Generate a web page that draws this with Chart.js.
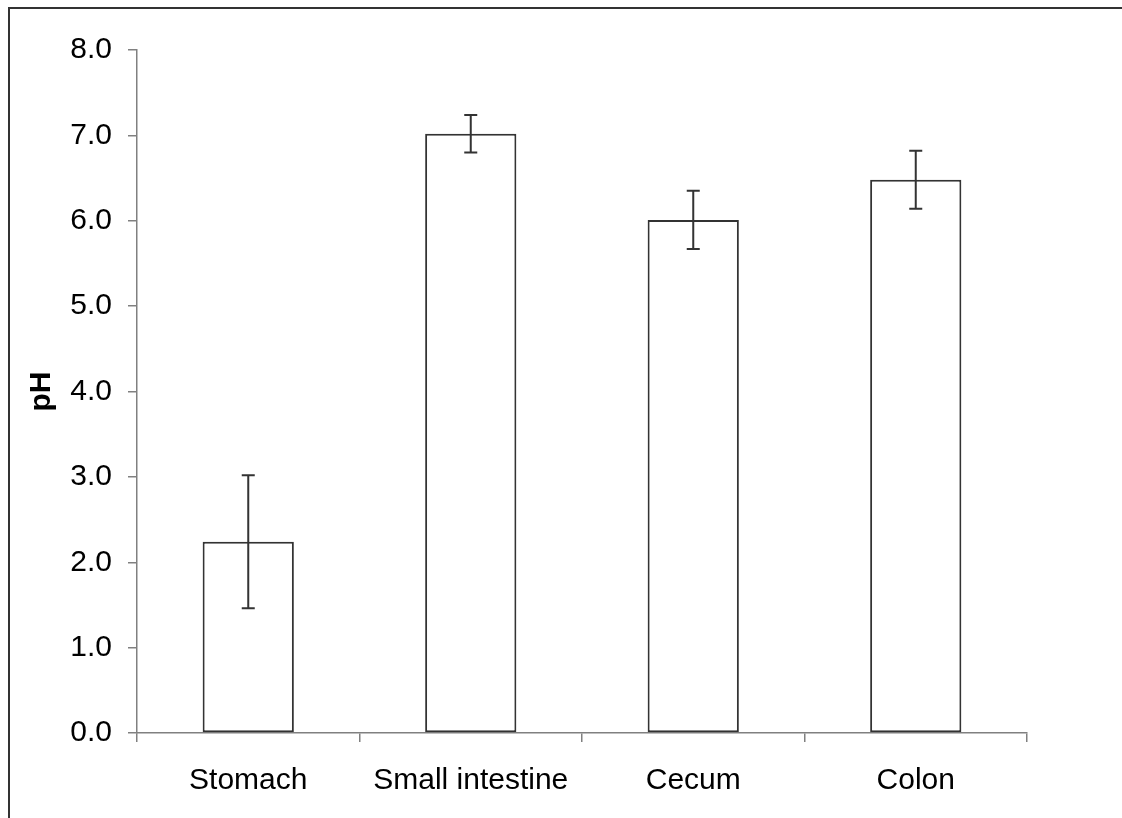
<!DOCTYPE html>
<html>
<head>
<meta charset="utf-8">
<script src="https://cdn.jsdelivr.net/npm/chart.js@4/dist/chart.umd.min.js"></script>
<style>
  body { margin: 0; background: #fff; }
  canvas { display: block; }
</style>
</head>
<body>
<canvas id="myChart" width="1122" height="818"></canvas>
<script>
// data
var sites = ['Stomach', 'Small intestine', 'Cecum', 'Colon'];
var phMean = [2.24, 7.02, 6.01, 6.48];
var phErr = [0.78, 0.22, 0.34, 0.34];
var yTicks = [0, 1, 2, 3, 4, 5, 6, 7, 8];

var FONT = '"Liberation Sans", Arial, sans-serif';

// outer frame (top and left edges only)
var framePlugin = {
    id: 'frame',
    beforeDraw: function(chart) {
        var c = chart.ctx;
        c.save();
        c.fillStyle = '#fff';
        c.fillRect(0, 0, chart.width, chart.height);
        c.strokeStyle = '#333';
        c.lineWidth = 2;
        c.beginPath();
        c.moveTo(9, chart.height);
        c.lineTo(9, 8);
        c.lineTo(chart.width, 8);
        c.stroke();
        c.restore();
    }
};

// error bars
var errorBars = {
    id: 'errorBars',
    afterDatasetsDraw: function(chart) {
        var c = chart.ctx;
        var y = chart.scales.y;
        var meta = chart.getDatasetMeta(0);
        c.save();
        c.strokeStyle = '#333';
        c.lineWidth = 2;
        meta.data.forEach(function(bar, i) {
            var top = y.getPixelForValue(phMean[i] + phErr[i]);
            var bot = y.getPixelForValue(phMean[i] - phErr[i]);
            c.beginPath();
            c.moveTo(bar.x, top);
            c.lineTo(bar.x, bot);
            c.moveTo(bar.x - 6.5, top);
            c.lineTo(bar.x + 6.5, top);
            c.moveTo(bar.x - 6.5, bot);
            c.lineTo(bar.x + 6.5, bot);
            c.stroke();
        });
        c.restore();
    }
};

var ctx = document.getElementById('myChart').getContext('2d');
var chart = new Chart(ctx, {
    type: 'bar',
    data: {
        labels: sites,
        datasets: [{
            data: phMean,
            backgroundColor: '#fff',
            borderColor: '#333',
            borderWidth: 2,
            borderSkipped: false,
            barPercentage: 0.41,
            categoryPercentage: 1.0
        }]
    },
    options: {
        responsive: false,
        animation: false,
        devicePixelRatio: 1,
        layout: { padding: { left: 12, top: 50, right: 95, bottom: 0 } },
        plugins: {
            legend: { display: false },
            tooltip: { enabled: false }
        },
        scales: {
            x: {
                grid: { drawOnChartArea: false, tickLength: 9, color: '#808080', lineWidth: 1.5 },
                border: { color: '#808080', width: 1.5 },
                ticks: { color: '#000', font: { family: FONT, size: 30 }, padding: 21, maxRotation: 0 },
                afterFit: function(s) { s.height = 85; }
            },
            y: {
                min: 0,
                max: 8,
                afterBuildTicks: function(s) { s.ticks = yTicks.map(function(v) { return { value: v }; }); },
                grid: { drawOnChartArea: false, tickLength: 9, color: '#808080', lineWidth: 1.5 },
                border: { color: '#808080', width: 1.5 },
                ticks: {
                    color: '#000',
                    font: { family: FONT, size: 30 },
                    padding: 16,
                    callback: function(v) { return Number(v).toFixed(1); }
                },
                title: {
                    display: true,
                    text: 'pH',
                    color: '#000',
                    font: { family: FONT, size: 30, weight: 'bold' },
                    padding: { top: 12, bottom: 0 }
                },
                afterFit: function(s) { s.width = 125; }
            }
        }
    },
    plugins: [framePlugin, errorBars]
});
</script>
</body>
</html>
